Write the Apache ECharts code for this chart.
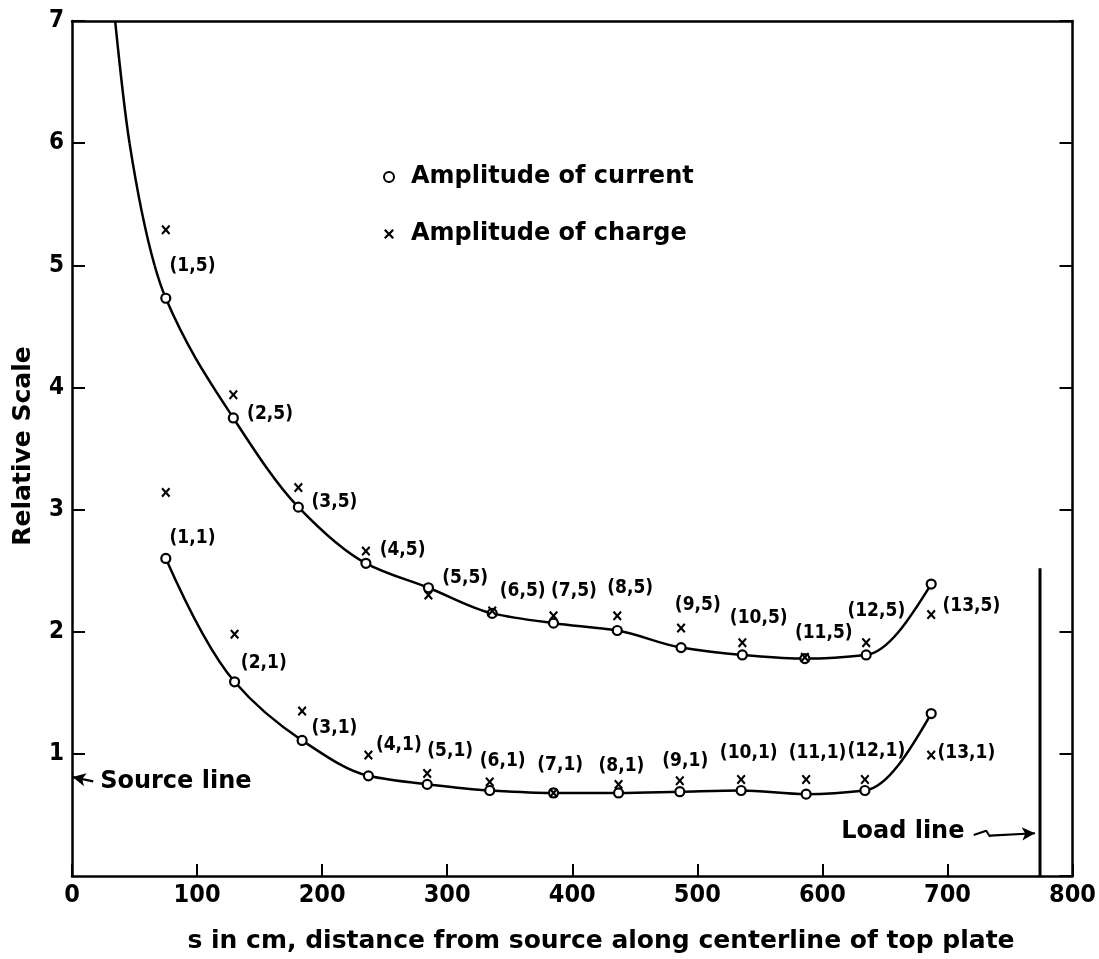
<!DOCTYPE html>
<html><head><meta charset="utf-8">
<script src="https://cdn.jsdelivr.net/npm/echarts@6/dist/echarts.min.js"></script>
<style>html,body{margin:0;padding:0;background:#fff}#c{width:1099px;height:959px}</style>
</head><body><div id="c"></div>
<script>
// ---- data ----
const xTicks = [0, 100, 200, 300, 400, 500, 600, 700, 800];
const yTicks = [0, 1, 2, 3, 4, 5, 6, 7];

// row "5" (upper curve) and row "1" (lower curve): s in cm
const s5 = [75, 129, 181, 235, 285, 336, 385, 436, 487, 536, 586, 635, 687];
const current5 = [4.73, 3.75, 3.02, 2.56, 2.36, 2.15, 2.07, 2.01, 1.87, 1.81, 1.78, 1.81, 2.39];
const charge5 = [5.29, 3.94, 3.18, 2.66, 2.30, 2.17, 2.13, 2.13, 2.03, 1.91, 1.79, 1.91, 2.14];

const s1 = [75, 130, 184, 237, 284, 334, 385, 437, 486, 535, 587, 634, 687];
const current1 = [2.60, 1.59, 1.11, 0.82, 0.75, 0.70, 0.68, 0.68, 0.69, 0.70, 0.67, 0.70, 1.33];
const charge1 = [3.14, 1.98, 1.35, 0.99, 0.84, 0.77, 0.68, 0.75, 0.78, 0.79, 0.79, 0.79, 0.99];

// upper curve continues above (1,5) to the top of the frame
const leadX = [34.5, 46, 66];
const leadY = [7.0, 6.0, 5.0];

// point labels
const names5 = ['(1,5)','(2,5)','(3,5)','(4,5)','(5,5)','(6,5)','(7,5)','(8,5)','(9,5)','(10,5)','(11,5)','(12,5)','(13,5)'];
const lbl5X = [78, 140, 191.5, 246, 296, 342, 383, 428, 482, 526, 578, 620, 696];
const lbl5Y = [4.99, 3.78, 3.06, 2.67, 2.44, 2.33, 2.33, 2.36, 2.22, 2.11, 1.99, 2.17, 2.21];
const names1 = ['(1,1)','(2,1)','(3,1)','(4,1)','(5,1)','(6,1)','(7,1)','(8,1)','(9,1)','(10,1)','(11,1)','(12,1)','(13,1)'];
const lbl1X = [78, 135, 191.5, 243, 284, 326, 372, 421, 472, 518, 573, 620, 692];
const lbl1Y = [2.77, 1.74, 1.21, 1.07, 1.02, 0.94, 0.91, 0.90, 0.94, 1.01, 1.01, 1.02, 1.01];

// load line position and annotation anchors
const loadLineX = 774;
const loadLineTop = 2.52;
const sourceArrow = [[17, 0.775], [0.5, 0.81]];
const loadSquiggle = [[721, 0.336], [731, 0.371], [734, 0.322]];
const loadArrow = [[734, 0.33], [770, 0.35]];
const notes = [{name: 'Source line', x: 22.5, y: 0.773}, {name: 'Load line', x: 615, y: 0.36}];

// ---- build ----
const zip = (xs, ys) => xs.map((x, i) => [x, ys[i]]);
const upperCurve = zip(leadX, leadY).concat(zip(s5, current5));
const lowerCurve = zip(s1, current1);
const labelData = names5.map((n, i) => ({name: n, value: [lbl5X[i], lbl5Y[i]]}))
  .concat(names1.map((n, i) => ({name: n, value: [lbl1X[i], lbl1Y[i]]})));

const GEO = "'DejaVu Sans', sans-serif";
const NARROW = "'Liberation Sans Narrow', 'DejaVu Sans Condensed', sans-serif";
const COND = "'DejaVu Sans Condensed', 'Liberation Sans Narrow', sans-serif";
const CROSS = 'path://M0,1.6L1.6,0L5,3.4L8.4,0L10,1.6L6.6,5L10,8.4L8.4,10L5,6.6L1.6,10L0,8.4L3.4,5Z';

// monotone (Fritsch-Carlson) tangents in data space
function tangents(pts) {
  const n = pts.length, h = [], d = [], m = new Array(n);
  for (let k = 0; k < n - 1; k++) { h[k] = pts[k + 1][0] - pts[k][0]; d[k] = (pts[k + 1][1] - pts[k][1]) / h[k]; }
  for (let k = 1; k < n - 1; k++) {
    if (d[k - 1] * d[k] <= 0) m[k] = 0;
    else { const w1 = 2 * h[k] + h[k - 1], w2 = h[k] + 2 * h[k - 1]; m[k] = (w1 + w2) / (w1 / d[k - 1] + w2 / d[k]); }
  }
  const endT = (h0, h1, d0, d1) => {
    let t = ((2 * h0 + h1) * d0 - h0 * d1) / (h0 + h1);
    if (Math.sign(t) !== Math.sign(d0)) t = 0;
    else if (Math.sign(d0) !== Math.sign(d1) && Math.abs(t) > 3 * Math.abs(d0)) t = 3 * d0;
    return t;
  };
  m[0] = endT(h[0], h[1], d[0], d[1]);
  m[n - 1] = endT(h[n - 2], h[n - 3], d[n - 2], d[n - 3]);
  return m;
}
function curveSeries(data) {
  const m = tangents(data);
  return {
    type: 'custom', data: data, silent: true, z: 2, clip: true,
    renderItem: (params, api) => {
      const i = params.dataIndexInside;
      if (i >= data.length - 1) return null;
      const x1 = api.value(0, i), y1 = api.value(1, i), x2 = api.value(0, i + 1), y2 = api.value(1, i + 1);
      const h = (x2 - x1) / 3;
      const p1 = api.coord([x1, y1]), p2 = api.coord([x2, y2]);
      const c1 = api.coord([x1 + h, y1 + m[i] * h]), c2 = api.coord([x2 - h, y2 - m[i + 1] * h]);
      return {
        type: 'bezierCurve',
        shape: {x1: p1[0], y1: p1[1], x2: p2[0], y2: p2[1], cpx1: c1[0], cpy1: c1[1], cpx2: c2[0], cpy2: c2[1]},
        style: {stroke: '#000', lineWidth: 2.5, fill: null}
      };
    }
  };
}

const chart = echarts.init(document.getElementById('c'), null, {renderer: 'canvas'});
const axisLine = {show: true, onZero: false, lineStyle: {color: '#000', width: 2.5}};
chart.setOption({
  animation: false,
  backgroundColor: '#fff',
  grid: {left: 72, right: 21, top: 21, bottom: 83, containLabel: false},
  xAxis: [{
    type: 'value', min: xTicks[0], max: xTicks[xTicks.length - 1], interval: xTicks[1] - xTicks[0], position: 'bottom',
    axisLine: axisLine,
    axisTick: {show: true, inside: true, length: 12, lineStyle: {color: '#000', width: 2}},
    axisLabel: {color: '#000', fontFamily: NARROW, fontWeight: 'bold', fontSize: 25, margin: 7},
    splitLine: {show: false}
  }, {
    type: 'value', min: xTicks[0], max: xTicks[xTicks.length - 1], position: 'top',
    axisLine: axisLine, axisTick: {show: false}, axisLabel: {show: false}, splitLine: {show: false}
  }],
  yAxis: [{
    type: 'value', min: yTicks[0], max: yTicks[yTicks.length - 1], interval: yTicks[1] - yTicks[0], position: 'left',
    axisLine: axisLine,
    axisTick: {show: true, inside: true, length: 13, lineStyle: {color: '#000', width: 2}},
    axisLabel: {color: '#000', fontFamily: NARROW, fontWeight: 'bold', fontSize: 24, margin: 8, showMinLabel: false},
    splitLine: {show: false}
  }, {
    type: 'value', min: yTicks[0], max: yTicks[yTicks.length - 1], interval: yTicks[1] - yTicks[0], position: 'right',
    axisLine: axisLine,
    axisTick: {show: true, inside: true, length: 13, lineStyle: {color: '#000', width: 2}},
    axisLabel: {show: false}, splitLine: {show: false}
  }],
  legend: {
    orient: 'vertical', left: 378, top: 160, itemGap: 33, itemWidth: 10, itemHeight: 10,
    data: ['Amplitude of current', 'Amplitude of charge'],
    textStyle: {color: '#000', fontFamily: GEO, fontWeight: 'bold', fontSize: 24, lineHeight: 24, padding: [0, 0, 0, 12]}
  },
  graphic: [{
    type: 'text', x: 601, y: 941,
    style: {text: 's in cm, distance from source along centerline of top plate', fill: '#000',
      font: "bold 25px 'DejaVu Sans', sans-serif", textAlign: 'center', textVerticalAlign: 'middle'}
  }, {
    type: 'text', x: 23, y: 446, rotation: Math.PI / 2,
    style: {text: 'Relative Scale', fill: '#000',
      font: "bold 25px 'DejaVu Sans', sans-serif", textAlign: 'center', textVerticalAlign: 'middle'}
  }],
  series: [
    curveSeries(upperCurve),
    curveSeries(lowerCurve),
  {
    name: 'Amplitude of current', type: 'scatter', data: zip(s5, current5).concat(zip(s1, current1)),
    symbol: 'circle', symbolSize: 9,
    itemStyle: {color: '#fff', borderColor: '#000', borderWidth: 2.2, opacity: 1}, z: 4
  }, {
    name: 'Amplitude of charge', type: 'scatter', data: zip(s5, charge5).concat(zip(s1, charge1)),
    symbol: CROSS, symbolSize: [9, 10],
    itemStyle: {color: '#000', opacity: 1}, z: 5
  }, {
    type: 'scatter', data: labelData, symbolSize: 0, silent: true, z: 6, itemStyle: {opacity: 1},
    label: {show: true, position: 'right', distance: 0, formatter: '{b}', color: '#000',
      fontFamily: COND, fontWeight: 'bold', fontSize: 19}
  }, {
    type: 'scatter', data: notes.map(n => ({name: n.name, value: [n.x, n.y]})), symbolSize: 0, silent: true, z: 6,
    itemStyle: {opacity: 1},
    label: {show: true, position: 'right', distance: 0, formatter: '{b}', color: '#000',
      fontFamily: GEO, fontWeight: 'bold', fontSize: 24}
  }, {
    type: 'line', data: [[loadLineX, 0], [loadLineX, loadLineTop]], showSymbol: false, silent: true,
    lineStyle: {color: '#000', width: 3}, z: 3,
    markLine: {
      silent: true, symbol: ['none', 'arrow'], symbolSize: [10, 13], animation: false,
      lineStyle: {color: '#000', width: 2.2, type: 'solid'}, label: {show: false},
      emphasis: {disabled: true},
      data: [
        [{coord: sourceArrow[0]}, {coord: sourceArrow[1]}],
        [{coord: loadArrow[0]}, {coord: loadArrow[1]}]
      ]
    }
  }, {
    type: 'line', data: loadSquiggle, showSymbol: false, silent: true,
    lineStyle: {color: '#000', width: 2}, z: 3
  }]
});
</script></body></html>
